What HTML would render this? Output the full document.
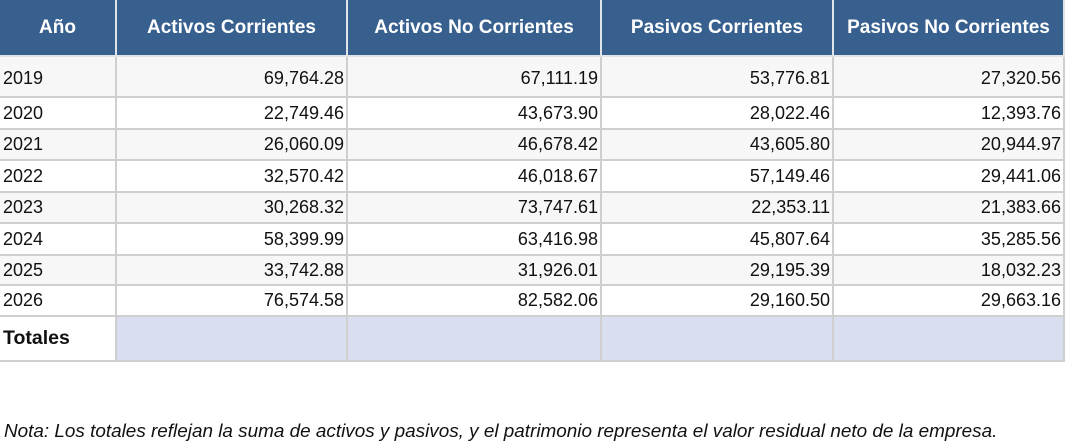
<!DOCTYPE html><html><head><style>
body{margin:0;width:1066px;height:441px;background:#fff;font-family:"Liberation Sans",sans-serif;position:relative;overflow:hidden}
.c{position:absolute;box-sizing:border-box;font-size:18px;color:#111;display:flex;align-items:center;border-right:2px solid #cfcfcf;border-bottom:2px solid #cfcfcf}
.h{background:#37608f;color:#fff;font-weight:bold;justify-content:center;font-size:19px;border-color:#dfe3ea}
.r{justify-content:flex-end;padding-right:2px}
.l{padding-left:3px}
.t{background:#d9dff1}
.note{position:absolute;left:4px;top:421px;font-style:italic;font-size:18.9px;color:#111;white-space:nowrap}
</style></head><body>
<div id="g"></div>
<div class="note">Nota: Los totales reflejan la suma de activos y pasivos, y el patrimonio representa el valor residual neto de la empresa.</div>
<script>
var cols=[0,117,348,602,834,1065];
var rows=[0,57,98,130,161,193,224,256,286,317,362];
var head=["Año","Activos Corrientes","Activos No Corrientes","Pasivos Corrientes","Pasivos No Corrientes"];
var data=[
["2019","69,764.28","67,111.19","53,776.81","27,320.56"],
["2020","22,749.46","43,673.90","28,022.46","12,393.76"],
["2021","26,060.09","46,678.42","43,605.80","20,944.97"],
["2022","32,570.42","46,018.67","57,149.46","29,441.06"],
["2023","30,268.32","73,747.61","22,353.11","21,383.66"],
["2024","58,399.99","63,416.98","45,807.64","35,285.56"],
["2025","33,742.88","31,926.01","29,195.39","18,032.23"],
["2026","76,574.58","82,582.06","29,160.50","29,663.16"],
["Totales","","","",""]];
var h="";
for(var r=0;r<10;r++)for(var c=0;c<5;c++){
 var cls="c",txt,st="";
 if(r==0){cls+=" h";txt=head[c];}
 else{txt=data[r-1][c];cls+=c==0?" l":" r";
  if(r==9){if(c>0)cls+=" t";else st="font-weight:bold;font-size:19.5px;";}
  else if(r%2==1)st="background:#f7f7f7;";}
 if(r==1)st+="padding-top:4px;";
 h+='<div class="'+cls+'" style="'+st+'left:'+cols[c]+'px;top:'+rows[r]+'px;width:'+(cols[c+1]-cols[c])+'px;height:'+(rows[r+1]-rows[r])+'px">'+txt+'</div>';
}
document.getElementById("g").innerHTML=h;
</script>
</body></html>
